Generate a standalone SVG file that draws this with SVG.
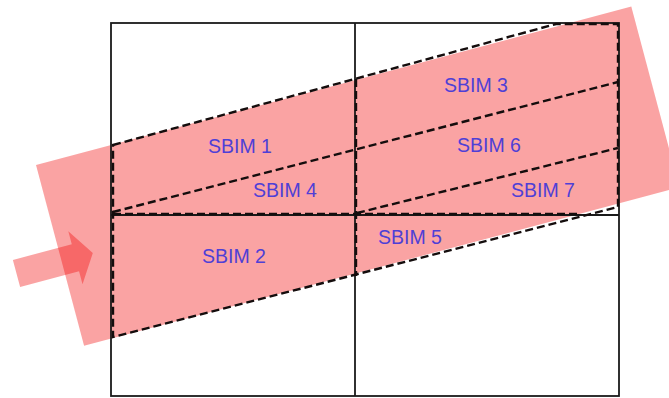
<svg xmlns="http://www.w3.org/2000/svg" width="669" height="398" viewBox="0 0 669 398">
<style>
.band{fill:#f00000;fill-opacity:0.36}
.grid{fill:none;stroke:#1a1a1a;stroke-width:1.8}
.dash{fill:none;stroke:#140d0d;stroke-width:2.4;stroke-dasharray:8 4}
.lbl{font-family:"Liberation Sans",Arial,sans-serif;font-size:19.5px;fill:#4f3fd6;text-anchor:middle}
</style>
<rect width="669" height="398" fill="#ffffff"/>
<g id="band">
<rect class="band" x="0" y="0" width="616" height="187" transform="translate(36,165) rotate(-14.9)"/>
</g>
<g id="arrow">
<path class="band" d="M0,-14 L61,-14 L61,-27.5 L79,0 L61,27.5 L61,14 L0,14 Z" transform="translate(16.5,273.5) rotate(-15)"/>
</g>
<g id="grid">
<rect class="grid" x="111" y="23" width="508" height="373"/>
<line class="grid" x1="355" y1="23" x2="355" y2="396"/>
<line class="grid" x1="111" y1="215" x2="619" y2="215"/>
</g>
<g id="connectors">
<path class="dash" d="M113,145 L556,24 L618,24 L618,207 L113,337 Z"/>
<line class="dash" x1="113" y1="212" x2="618" y2="82"/>
<line class="dash" x1="357" y1="213" x2="618" y2="148"/>
<line class="dash" x1="113" y1="214" x2="580" y2="214"/>
<line class="dash" x1="356" y1="79" x2="356" y2="276"/>
</g>
<g id="sbim1"><text class="lbl" x="240" y="153">SBIM 1</text></g>
<g id="sbim2"><text class="lbl" x="234" y="263">SBIM 2</text></g>
<g id="sbim3"><text class="lbl" x="476" y="92">SBIM 3</text></g>
<g id="sbim4"><text class="lbl" x="285" y="197">SBIM 4</text></g>
<g id="sbim5"><text class="lbl" x="410" y="244">SBIM 5</text></g>
<g id="sbim6"><text class="lbl" x="489" y="152">SBIM 6</text></g>
<g id="sbim7"><text class="lbl" x="543" y="197">SBIM 7</text></g>
</svg>
